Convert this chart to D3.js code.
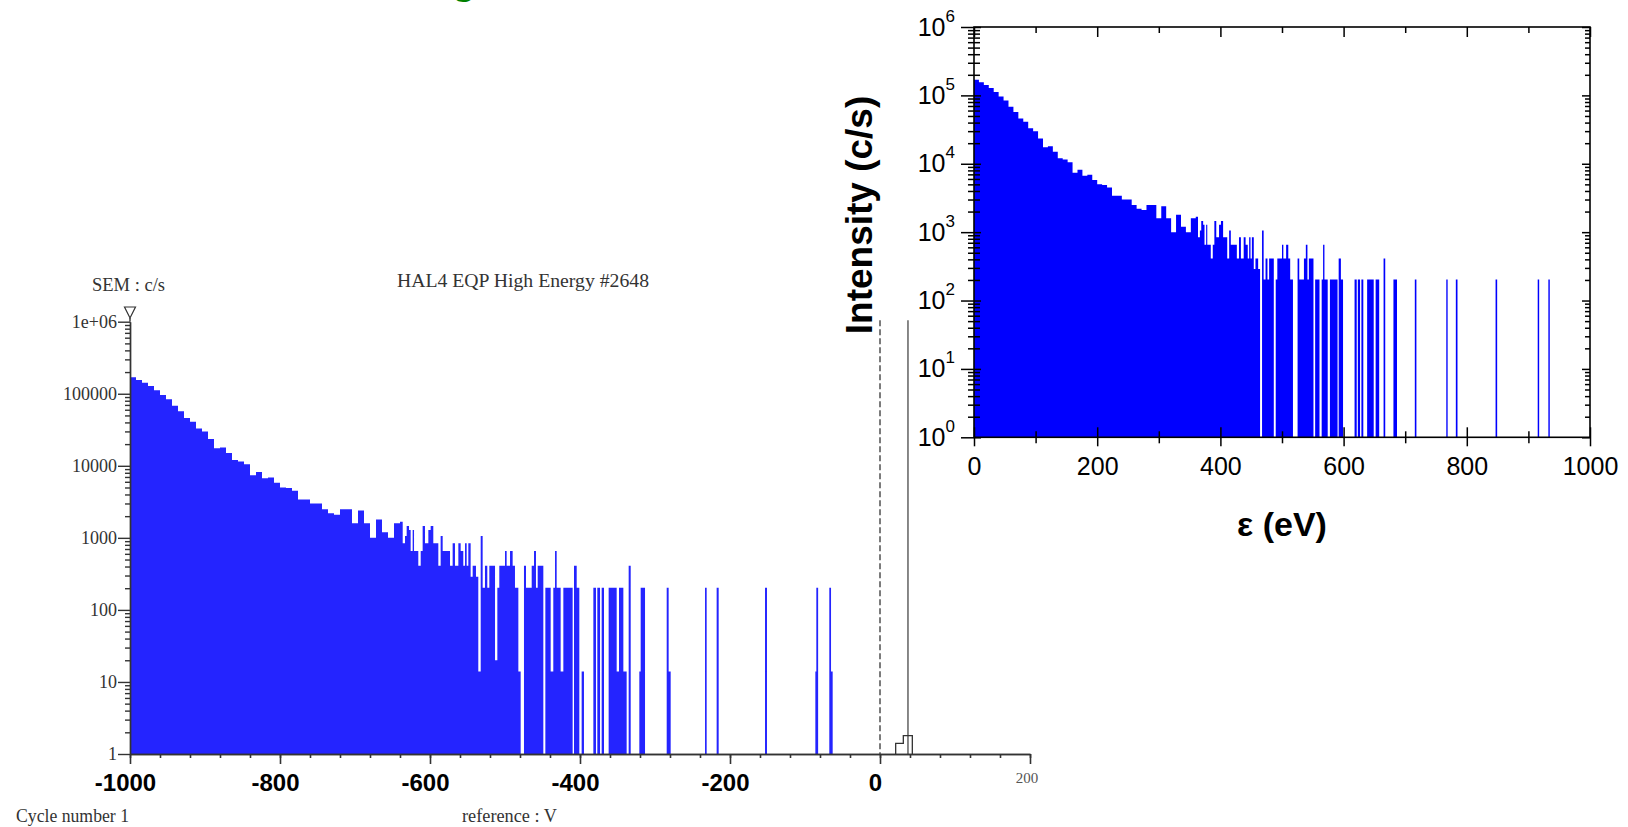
<!DOCTYPE html>
<html>
<head>
<meta charset="utf-8" />
<title>HAL4 EQP High Energy #2648</title>
<script src="https://cdn.jsdelivr.net/npm/d3@7/dist/d3.min.js"></script>
<style>
    body { margin: 0; background: #fff; }
    svg { display: block; }
</style>
</head>
<body>
<div id="chart_container"></div>
<script>
// ---- data ----
// dense part of the spectrum, one value per 8 V from -1000 V
var denseStartV = -1000;
var denseStepV = 8;
var denseCounts = [169000, 155000, 142000, 128000, 112000, 96000, 84000, 68000, 57000, 46000,
    41000, 33000, 30000, 23500, 17500, 18000, 15000, 12000, 11500, 10500,
    7400, 8200, 6700, 6900, 5800, 5000, 4900, 4500, 3400, 3400,
    3000, 3000, 2500, 2200, 2100, 2500, 2500, 1600, 2400, 1600,
    1000, 1800, 1200, 1000, 1600];

// sparse tail: bin start (V) and count (c/s), each bin runs to the next start
var stepV = [-640, -636.4, -633.3, -631.1, -628, -625.8, -623.1, -621.3, -615.6, -612.4,
    -609.8, -606.7, -602.2, -599.1, -595.6, -588.9, -585.8, -583.1, -573.3, -569.8,
    -566.7, -562.2, -559.1, -555.6, -553.3, -551.1, -548.9, -545.8, -543.1, -538.7,
    -535.6, -532.4, -529.8, -526.7, -523.6, -520.9, -513.3, -510.2, -507.6, -500,
    -497.8, -493.3, -489.8, -486.7, -482.2, -479.1, -474.7, -472, -464.4, -461.3,
    -458.7, -456.4, -448.9, -446.2, -439.1, -435.6, -433.3, -431.1, -425.8, -422.2,
    -409.8, -408, -404.4, -400.9, -397.8, -394.7, -382.2, -378.7, -376.9, -373.3,
    -371.1, -368, -361.8, -351.1, -348, -342.2, -337.8, -335.1, -332.4, -320.9,
    -319.1, -313.3, -284.4, -281.8, -279.1, -233.3, -231.1, -217.8, -215.1, -153.3,
    -150.7, -86.2, -84.9, -82.5, -67.6, -65.3, -63.1];
var stepCount = [1675, 840, 1060, 1460, 1285, 656, 1285, 656, 411, 656,
    1460, 840, 1285, 1460, 840, 411, 1060, 656, 411, 840,
    411, 840, 656, 411, 840, 411, 840, 289, 411, 289,
    14, 1060, 203, 411, 203, 411, 20, 203, 411, 656,
    411, 656, 411, 203, 14, 0, 411, 203, 411, 656,
    203, 411, 0, 203, 14, 203, 656, 203, 14, 203,
    0, 411, 203, 0, 14, 0, 203, 0, 203, 0,
    203, 0, 203, 14, 203, 14, 0, 411, 0, 14,
    203, 0, 203, 14, 0, 203, 0, 203, 0, 203,
    0, 14, 203, 0, 203, 14, 0];

// reference trace (black outline) near +30 V
var refV = [20.9, 31.1, 43.1];
var refCount = [1.4, 1.8];

// vertical markers on the left plot (V)
var markerDashedV = 0;
var markerSolidV = 37.3;

// epsilon = V + 1000
var energyOffset = 1000;
// the right plot does not show bins below one event (~200 c/s)
var rightMinCount = 100;

// tick labels
var leftYTicks = [1, 10, 100, 1000, 10000, 100000, 1000000];
var leftYTickLabels = ["1", "10", "100", "1000", "10000", "100000", "1e+06"];
var leftXTicks = [-1000, -800, -600, -400, -200, 0, 200];
var leftXTickLabels = ["-1000", "-800", "-600", "-400", "-200", "0", "200"];
var rightXTicks = [0, 200, 400, 600, 800, 1000];
var rightXTickLabels = ["0", "200", "400", "600", "800", "1000"];
var rightYTicks = [1, 10, 100, 1000, 10000, 100000, 1000000];
var rightYExponents = ["0", "1", "2", "3", "4", "5", "6"];

// ---- drawing ----
var svg = d3.select("#chart_container").append("svg")
    .attr("width", 1628).attr("height", 827);

var sans = "'Liberation Sans', Arial, sans-serif";
var serif = "'Liberation Serif', 'Times New Roman', serif";

// bins
var bins = [];
denseCounts.forEach(function (c, i) { bins.push({ v: denseStartV + i * denseStepV, c: c }); });
stepV.forEach(function (v, i) { bins.push({ v: v, c: stepCount[i] }); });

// log minor tick values
var minorVals = [];
for (var e = 0; e < 6; e++) {
    for (var k = 2; k < 10; k++) minorVals.push(k * Math.pow(10, e));
}

// clipped green title letter at the top edge
svg.append("text")
    .attr("x", 464).attr("y", -6)
    .attr("text-anchor", "middle")
    .style("font-family", sans).style("font-weight", "bold").style("font-size", "40px")
    .style("fill", "#008000")
    .text("g");

// ============ left plot ============
var xL = d3.scaleLinear().domain([-1000, 200]).range([130, 1030]);
var yL = d3.scaleLog().domain([1, 1e6]).range([754, 321.7]);

var areaL = d3.area()
    .curve(d3.curveStepAfter)
    .x(function (d) { return xL(d.v); })
    .y0(yL(1))
    .y1(function (d) { return yL(Math.max(d.c, 1)); });

svg.append("path").datum(bins)
    .attr("d", areaL)
    .attr("fill", "#2424ff");

// markers
svg.append("line")
    .attr("x1", xL(markerDashedV)).attr("x2", xL(markerDashedV))
    .attr("y1", yL(1.05e6)).attr("y2", yL(1))
    .attr("stroke", "#444").attr("stroke-width", 1.4)
    .attr("stroke-dasharray", "6,3");
svg.append("line")
    .attr("x1", xL(markerSolidV)).attr("x2", xL(markerSolidV))
    .attr("y1", yL(1.05e6)).attr("y2", yL(1))
    .attr("stroke", "#555").attr("stroke-width", 1.4);

// reference outline
var refPts = [{ v: refV[0], c: 1 }, { v: refV[0], c: refCount[0] },
    { v: refV[1], c: refCount[1] }, { v: refV[2], c: refCount[1] }, { v: refV[2], c: 1 }];
svg.append("path").datum(refPts)
    .attr("d", d3.line().curve(d3.curveStepAfter)
        .x(function (d) { return xL(d.v); })
        .y(function (d) { return yL(d.c); }))
    .attr("fill", "none").attr("stroke", "#333").attr("stroke-width", 1.3);

// y axis
var gyMinor = svg.append("g").attr("transform", "translate(" + xL(-1000) + ",0)");
gyMinor.call(d3.axisLeft(yL).tickValues(minorVals).tickSize(5).tickFormat("").tickSizeOuter(0));
var gy = svg.append("g").attr("transform", "translate(" + xL(-1000) + ",0)");
gy.call(d3.axisLeft(yL).tickValues(leftYTicks).tickSize(12).tickPadding(1).tickSizeOuter(0)
    .tickFormat(function (d, i) { return leftYTickLabels[i]; }));
[gyMinor, gy].forEach(function (g) {
    g.attr("color", "#333");
    g.selectAll("path, line").attr("stroke-width", 1.4);
});
gy.selectAll("text")
    .style("font-family", serif).style("font-size", "18px").style("fill", "#333");

// axis arrow marker on top
svg.append("line")
    .attr("x1", xL(-1000)).attr("x2", xL(-1000))
    .attr("y1", 318).attr("y2", yL(1e6))
    .attr("stroke", "#333").attr("stroke-width", 1.4);
svg.append("path")
    .attr("d", "M" + (xL(-1000) - 5.5) + ",307L" + (xL(-1000) + 5.5) + ",307L" + xL(-1000) + ",318Z")
    .attr("fill", "#fff").attr("stroke", "#333").attr("stroke-width", 1.2);

// x axis
var gxMinor = svg.append("g").attr("transform", "translate(0," + yL(1) + ")");
gxMinor.call(d3.axisBottom(xL).tickValues(d3.range(-1000, 201, 40)).tickSize(4).tickFormat("").tickSizeOuter(0));
var gx = svg.append("g").attr("transform", "translate(0," + yL(1) + ")");
gx.call(d3.axisBottom(xL).tickValues(leftXTicks).tickSize(10).tickPadding(9.5).tickSizeOuter(0)
    .tickFormat(function (d, i) { return leftXTickLabels[i]; }));
[gxMinor, gx].forEach(function (g) {
    g.attr("color", "#333");
    g.selectAll("path, line").attr("stroke-width", 1.6);
});
gx.selectAll("text")
    .attr("dx", -5)
    .style("font-family", sans).style("font-weight", "bold").style("font-size", "24px")
    .style("fill", "#000");
gx.selectAll("text").filter(function (d) { return d === 200; })
    .attr("dx", -3.5).attr("dy", 0).attr("y", 28.5)
    .style("font-family", serif).style("font-weight", "normal").style("font-size", "15px")
    .style("fill", "#555");

// texts of the left plot
function serifText(x, y, s, len) {
    svg.append("text")
        .attr("x", x).attr("y", y)
        .attr("textLength", len).attr("lengthAdjust", "spacingAndGlyphs")
        .style("font-family", serif).style("font-size", "18px").style("fill", "#333")
        .text(s);
}
serifText(92, 291, "SEM : c/s", 73);
serifText(397, 287, "HAL4 EQP High Energy #2648", 252);
serifText(16, 822, "Cycle number 1", 113);
serifText(462, 822, "reference : V", 95);

// ============ right plot ============
var xR = d3.scaleLinear().domain([0, 1000]).range([974, 1590]);
var yR = d3.scaleLog().domain([1, 1e6]).range([437.3, 27]);

svg.append("clipPath").attr("id", "clipR")
    .append("rect")
    .attr("x", xR(0)).attr("y", yR(1e6))
    .attr("width", xR(1000) - xR(0)).attr("height", yR(1) - yR(1e6));

var areaR = d3.area()
    .curve(d3.curveStepAfter)
    .x(function (d) { return xR(d.v + energyOffset); })
    .y0(yR(1))
    .y1(function (d) { return yR(d.c < rightMinCount ? 1 : d.c); });

svg.append("path").datum(bins)
    .attr("clip-path", "url(#clipR)")
    .attr("d", areaR)
    .attr("fill", "#0000ff");

// bottom axis
var gbMinor = svg.append("g").attr("transform", "translate(0," + yR(1) + ")");
gbMinor.call(d3.axisBottom(xR).tickValues(d3.range(100, 1000, 200)).tickSize(6).tickFormat("").tickSizeOuter(0));
gbMinor.selectAll(".tick line").attr("y1", -6);
var gb = svg.append("g").attr("transform", "translate(0," + yR(1) + ")");
gb.call(d3.axisBottom(xR).tickValues(rightXTicks).tickSize(9).tickPadding(11).tickSizeOuter(0)
    .tickFormat(function (d, i) { return rightXTickLabels[i]; }));
gb.selectAll(".tick line").attr("y1", -10);
gb.selectAll("text").style("font-family", sans).style("font-size", "25px").style("fill", "#000");

// top axis (inward ticks)
var gtMinor = svg.append("g").attr("transform", "translate(0," + yR(1e6) + ")");
gtMinor.call(d3.axisTop(xR).tickValues(d3.range(100, 1000, 200)).tickSize(-6).tickFormat("").tickSizeOuter(0));
var gt = svg.append("g").attr("transform", "translate(0," + yR(1e6) + ")");
gt.call(d3.axisTop(xR).tickValues(rightXTicks).tickSize(-10).tickFormat("").tickSizeOuter(0));

// left axis
var glMinor = svg.append("g").attr("transform", "translate(" + xR(0) + ",0)");
glMinor.call(d3.axisLeft(yR).tickValues(minorVals).tickSize(6).tickFormat("").tickSizeOuter(0));
glMinor.selectAll(".tick line").attr("x1", 6);
var gl = svg.append("g").attr("transform", "translate(" + xR(0) + ",0)");
gl.call(d3.axisLeft(yR).tickValues(rightYTicks).tickSize(13).tickPadding(6).tickSizeOuter(0).tickFormat(""));
gl.selectAll(".tick line").attr("x1", 7);
gl.selectAll(".tick text")
    .style("font-family", sans).style("font-size", "25px").style("fill", "#000")
    .each(function (d, i) {
        var t = d3.select(this);
        t.append("tspan").text("10");
        t.append("tspan").attr("dy", -14).style("font-size", "17px").text(rightYExponents[i]);
    });

// right axis (inward ticks)
var grMinor = svg.append("g").attr("transform", "translate(" + xR(1000) + ",0)");
grMinor.call(d3.axisRight(yR).tickValues(minorVals).tickSize(-5).tickFormat("").tickSizeOuter(0));
var gr = svg.append("g").attr("transform", "translate(" + xR(1000) + ",0)");
gr.call(d3.axisRight(yR).tickValues(rightYTicks).tickSize(-8).tickFormat("").tickSizeOuter(0));

[gbMinor, gb, gtMinor, gt, glMinor, gl, grMinor, gr].forEach(function (g) {
    g.attr("color", "#000");
    g.select(".domain").remove();
    g.selectAll("line").attr("stroke-width", 1.5);
});

// frame
svg.append("rect")
    .attr("x", xR(0)).attr("y", yR(1e6))
    .attr("width", xR(1000) - xR(0)).attr("height", yR(1) - yR(1e6))
    .attr("fill", "none").attr("stroke", "#000").attr("stroke-width", 1.6);

// axis titles
svg.append("text")
    .attr("transform", "translate(872,215) rotate(-90)")
    .attr("text-anchor", "middle")
    .style("font-family", sans).style("font-weight", "bold").style("font-size", "37px")
    .text("Intensity (c/s)");
svg.append("text")
    .attr("x", 1282).attr("y", 536)
    .attr("text-anchor", "middle")
    .style("font-family", sans).style("font-weight", "bold").style("font-size", "34px")
    .text("ε (eV)");
</script>
</body>
</html>
